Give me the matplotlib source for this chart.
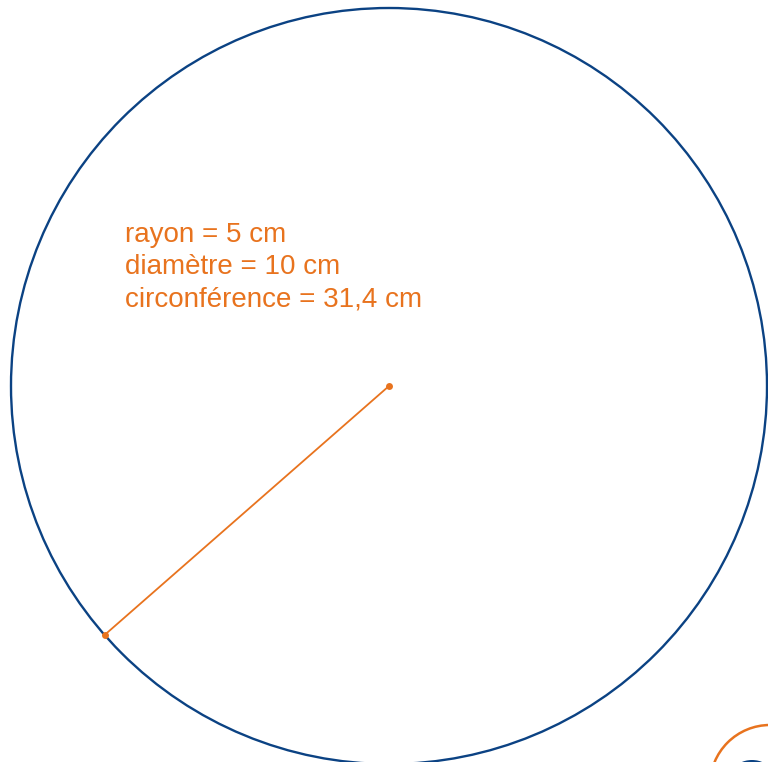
import numpy as np
import matplotlib
matplotlib.use("Agg")
import matplotlib.pyplot as plt
from matplotlib.patches import Circle, Ellipse

# data (cm)
radius_cm = 5
diameter_cm = 10
circumference_cm = 31.4
radius_angle_deg = 221.2
labels = ["rayon = 5 cm", "diamètre = 10 cm", "circonférence = 31,4 cm"]

BLUE = "#0B4283"
ORANGE = "#E8731E"

W, H = 768, 762
S = 378 / radius_cm          # px per cm
fig = plt.figure(figsize=(W / 100, H / 100), dpi=100)
ax = fig.add_axes([0, 0, 1, 1])
ax.set_xlim(0, W / S)
ax.set_ylim(0, H / S)
ax.set_aspect("equal")
ax.axis("off")

cx, cy = 389 / S, (H - 386) / S
ax.add_patch(Circle((cx, cy), radius_cm, fill=False, ec=BLUE, lw=1.7))

a = np.deg2rad(radius_angle_deg)
ex, ey = cx + radius_cm * np.cos(a), cy + radius_cm * np.sin(a)
ax.plot([cx, ex], [cy, ey], color=ORANGE, lw=1.3, solid_capstyle="round")
ax.plot([cx, ex], [cy, ey], "o", color=ORANGE, ms=5, mec="none")

for i, t in enumerate(labels):
    ax.text(125 / S, (H - (242 + 32 * i)) / S, t, color=ORANGE,
            fontsize=20, family="Liberation Sans", va="baseline", ha="left")

# partial decorative icon at bottom right
ax.add_patch(Circle((770 / S, (H - 785) / S), 60 / S, fill=False, ec=ORANGE, lw=1.8, clip_on=True))
ax.add_patch(Ellipse((752 / S, (H - 770) / S), 34 / S, 20 / S, fc=BLUE, ec="none", clip_on=True))

fig.savefig("out.png", dpi=100)
